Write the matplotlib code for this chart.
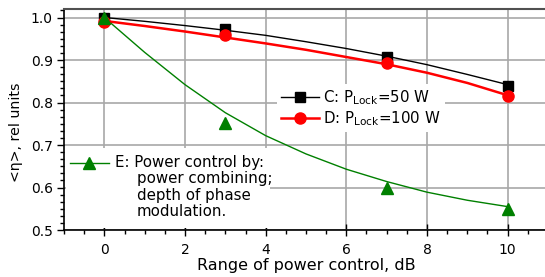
import matplotlib
matplotlib.use('Agg')
import matplotlib.pyplot as plt
from matplotlib.lines import Line2D
from matplotlib.ticker import AutoMinorLocator

plt.rcParams['font.family'] = ['DejaVu Sans']
plt.rcParams['mathtext.fontset'] = 'dejavusans'

# measured points
x_pts = [0, 3, 7, 10]
c_pts = [1.0, 0.972, 0.908, 0.840]
d_pts = [0.990, 0.958, 0.894, 0.816]
e_pts = [1.0, 0.752, 0.600, 0.550]

# fitted curves
x_fit = [0, 1, 2, 3, 4, 5, 6, 7, 8, 9, 10]
c_fit = [1.0, 0.991, 0.981, 0.970, 0.958, 0.943, 0.927, 0.909, 0.889, 0.866, 0.842]
d_fit = [0.992, 0.980, 0.967, 0.953, 0.939, 0.924, 0.907, 0.890, 0.870, 0.846, 0.817]
e_fit = [1.0, 0.918, 0.842, 0.776, 0.722, 0.679, 0.643, 0.614, 0.589, 0.570, 0.555]

fig = plt.figure(figsize=(5.45, 2.77), dpi=100)
ax = fig.add_axes([64/545, 47/277, 484/545, 221/277])

ax.plot(x_fit, c_fit, '-', color='black', lw=1.0, zorder=3)
ax.plot(x_pts, c_pts, 's', color='black', ms=7, zorder=4)
ax.plot(x_fit, d_fit, '-', color='#ff0000', lw=1.8, zorder=3)
ax.plot(x_pts, d_pts, 'o', color='#ff0000', ms=8, zorder=4)
ax.plot(x_fit, e_fit, '-', color='#008000', lw=1.0, zorder=3)
ax.plot(x_pts, e_pts, '^', color='#008000', ms=8, zorder=5)

ax.set_xlim(-1, 11)
ax.set_ylim(0.5, 1.02)
ax.set_xticks([0, 2, 4, 6, 8, 10])
ax.set_yticks([0.5, 0.6, 0.7, 0.8, 0.9, 1.0])
ax.set_yticklabels(['0.5', '0.6', '0.7', '0.8', '0.9', '1.0'])
ax.xaxis.set_minor_locator(AutoMinorLocator(4))
ax.yaxis.set_minor_locator(AutoMinorLocator(6))
ax.tick_params(axis='both', which='major', direction='out', length=5, width=1, labelsize=10, pad=3)
ax.tick_params(axis='x', which='major', direction='inout', length=8, pad=5)
ax.tick_params(axis='both', which='minor', direction='out', length=3, width=1)
ax.grid(True, which='major', color='#a8a8a8', lw=1.2)
ax.set_axisbelow(True)

ax.spines['top'].set_color('#505050')
ax.spines['top'].set_linewidth(1.5)
ax.spines['right'].set_visible(False)
ax.spines['left'].set_linewidth(1.2)
ax.spines['bottom'].set_linewidth(1.2)

ax.set_xlabel('Range of power control, dB', fontsize=11.5)
ax.xaxis.set_label_coords(0.5, -0.125)
ax.set_ylabel('<\u03b7>, rel units', fontsize=10.2)
ax.yaxis.set_label_coords(-0.085, 0.444)

handles = [
    Line2D([], [], color='black', lw=1.0, marker='s', ms=7),
    Line2D([], [], color='#ff0000', lw=1.8, marker='o', ms=8),
]
labels = [r'C: P$_{\mathregular{Lock}}$=50 W', r'D: P$_{\mathregular{Lock}}$=100 W']
leg = ax.legend(handles, labels, loc='upper left', bbox_to_anchor=(0.44, 0.66),
                borderaxespad=0, frameon=True, fancybox=False, edgecolor='none',
                facecolor='white', framealpha=1, fontsize=10.8, handlelength=2.5,
                handletextpad=0.25, labelspacing=0.1, borderpad=0.3)
leg.set_zorder(6)

# legend for E drawn by hand (handle sits on first line)
ax.add_patch(plt.Rectangle((0.005, 0.01), 0.42, 0.36, transform=ax.transAxes,
                           facecolor='white', edgecolor='none', zorder=6))
ax.add_line(Line2D([0.013, 0.092], [0.305, 0.305], transform=ax.transAxes,
                   color='#008000', lw=1.0, zorder=7))
ax.add_line(Line2D([0.0525], [0.305], transform=ax.transAxes, color='#008000',
                   marker='^', ms=8, zorder=7))
ax.text(0.105, 0.305, 'E: Power control by:', transform=ax.transAxes,
        fontsize=10.8, va='center', ha='left', zorder=8)
ax.text(0.151, 0.265, 'power combining;\ndepth of phase\nmodulation.',
        transform=ax.transAxes, fontsize=10.8, va='top', ha='left',
        linespacing=1.12, zorder=8)

fig.savefig('out.png', dpi=100)
